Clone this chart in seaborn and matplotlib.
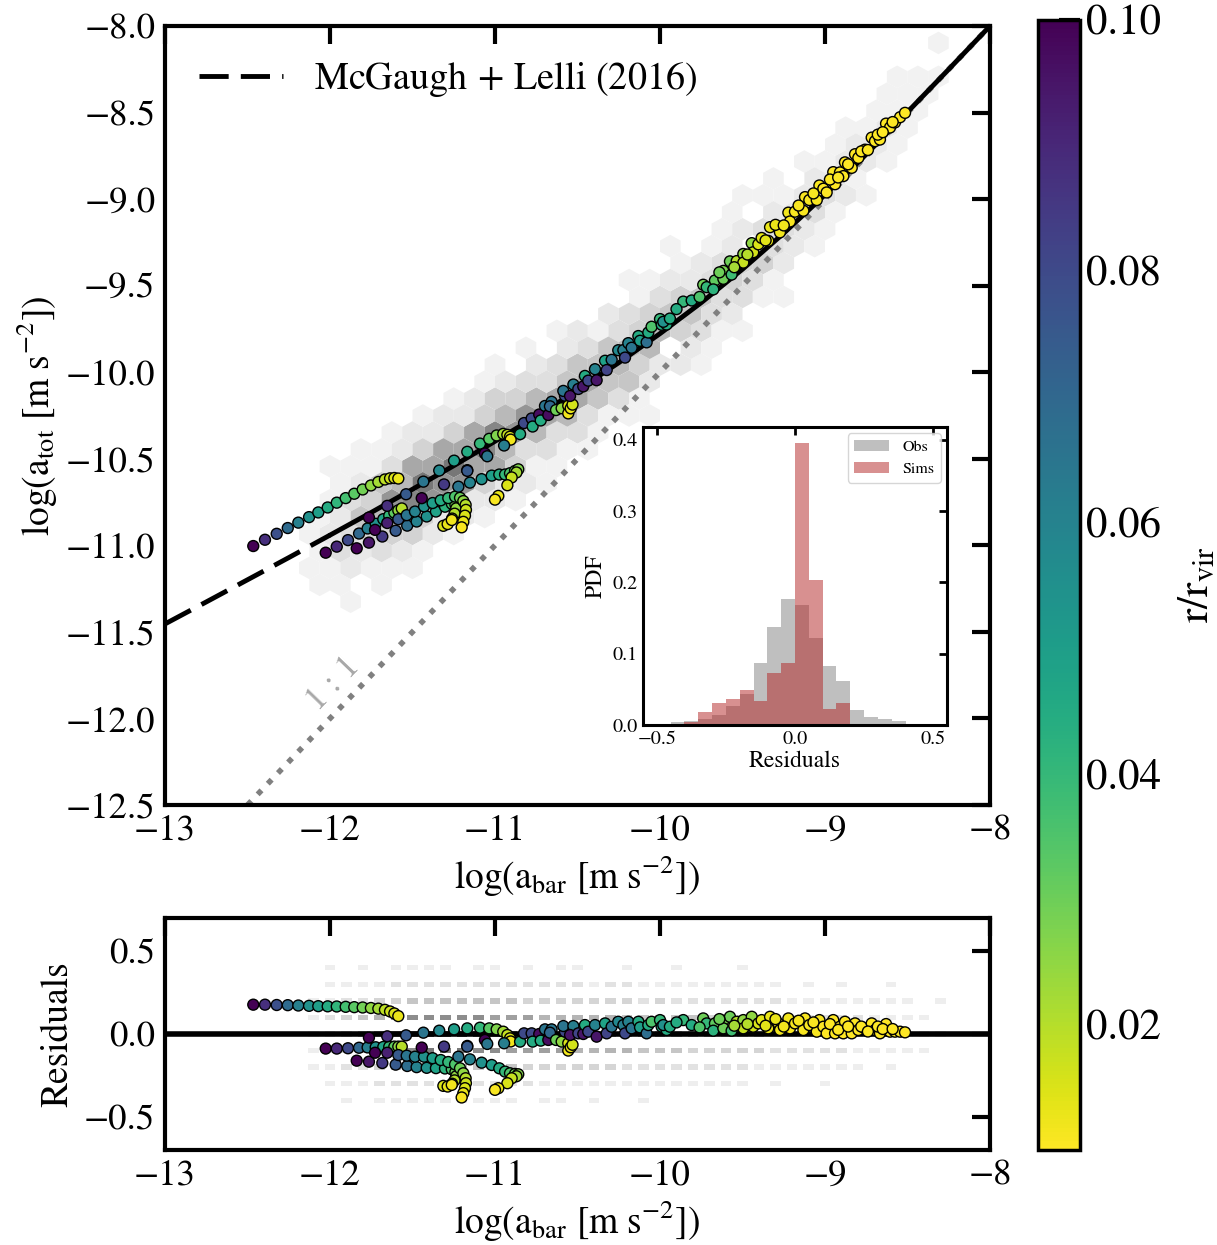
import numpy as np
import pandas as pd
import matplotlib
matplotlib.use("Agg")
import matplotlib.pyplot as plt
import seaborn as sns
from matplotlib.colors import Normalize
from matplotlib.cm import ScalarMappable
from matplotlib.lines import Line2D

# ---------------- data ----------------
# McGaugh + Lelli (2016) relation
rar_x = [-13.0, -12.75, -12.5, -12.25, -12.0, -11.75, -11.5, -11.25, -11.0, -10.75, -10.5,
         -10.25, -10.0, -9.75, -9.5, -9.25, -9.0, -8.75, -8.5, -8.25, -8.0]
rar_y = [-11.454, -11.327, -11.199, -11.071, -10.941, -10.810, -10.676, -10.540, -10.399, -10.255, -10.104,
         -9.945, -9.777, -9.598, -9.405, -9.197, -8.975, -8.741, -8.497, -8.250, -8.000]
one_to_one = [-12.5, -8.0]

# observed data: counts on a grid of log(a_bar) x residual
obs_x = [-12.1, -12.0, -11.9, -11.8, -11.7, -11.6, -11.5, -11.4, -11.3, -11.2, -11.1, -11.0, -10.9,
         -10.8, -10.7, -10.6, -10.5, -10.4, -10.3, -10.2, -10.1, -10.0, -9.9, -9.8, -9.7, -9.6,
         -9.5, -9.4, -9.3, -9.2, -9.1, -9.0, -8.9, -8.8, -8.7, -8.6, -8.5, -8.4, -8.3]
obs_res = [0.4, 0.3, 0.2, 0.1, 0.0, -0.1, -0.2, -0.3, -0.4]
obs_counts = [
    [0, 1, 0, 1, 0, 1, 1, 1, 1, 0, 1, 1, 0, 1, 0, 1, 1, 0, 0, 1, 0, 0, 1, 0, 0, 0, 1, 0, 0, 0, 0, 0, 0, 0, 0, 0, 0, 0, 0],
    [0, 1, 1, 1, 1, 2, 2, 2, 2, 2, 2, 2, 2, 2, 2, 2, 2, 1, 2, 2, 1, 1, 1, 1, 1, 1, 1, 1, 1, 0, 1, 0, 1, 0, 0, 1, 0, 0, 0],
    [1, 1, 2, 2, 3, 3, 4, 4, 4, 4, 4, 4, 4, 3, 3, 3, 3, 3, 3, 3, 2, 3, 2, 2, 2, 2, 2, 2, 2, 1, 1, 1, 1, 1, 1, 1, 1, 0, 1],
    [1, 2, 3, 4, 5, 6, 7, 7, 7, 7, 7, 6, 6, 6, 5, 5, 5, 5, 5, 4, 4, 4, 4, 4, 3, 3, 3, 3, 2, 2, 2, 2, 2, 2, 1, 1, 1, 1, 0],
    [1, 2, 3, 5, 6, 8, 9, 10, 10, 10, 9, 9, 8, 8, 7, 7, 7, 7, 6, 6, 6, 6, 5, 5, 5, 4, 4, 4, 3, 3, 3, 3, 2, 2, 2, 2, 1, 1, 1],
    [1, 2, 3, 4, 5, 6, 7, 8, 8, 8, 7, 7, 6, 6, 6, 6, 5, 5, 5, 5, 4, 4, 4, 3, 3, 3, 3, 3, 2, 2, 2, 2, 2, 1, 1, 1, 1, 1, 0],
    [1, 1, 2, 2, 3, 4, 4, 4, 5, 5, 4, 4, 4, 3, 3, 3, 3, 3, 3, 2, 2, 2, 2, 2, 2, 2, 2, 1, 1, 1, 1, 1, 1, 1, 0, 1, 0, 0, 0],
    [0, 1, 1, 1, 2, 2, 2, 2, 2, 2, 2, 2, 2, 2, 1, 1, 1, 1, 1, 1, 1, 1, 1, 1, 1, 1, 1, 0, 1, 0, 0, 1, 0, 0, 0, 0, 0, 0, 0],
    [0, 0, 1, 0, 1, 1, 1, 1, 1, 1, 1, 1, 1, 0, 1, 1, 0, 1, 0, 0, 1, 0, 0, 0, 0, 0, 0, 0, 0, 0, 0, 0, 0, 0, 0, 0, 0, 0, 0],
]

# simulated galaxies: log(a_bar), residual from the relation, r/r_vir
sim_x = [
    # outer-to-inner track, above the relation
    -12.465, -12.394, -12.323, -12.256, -12.192, -12.127, -12.071, -12.014, -11.959, -11.905,
    -11.853, -11.802, -11.752, -11.707, -11.667, -11.636, -11.610, -11.586,
    # track slightly below
    -12.026, -11.959, -11.891, -11.824, -11.772, -11.723, -11.677, -11.641, -11.610, -11.586, -11.565,
    # lower track
    -11.838, -11.764, -11.683, -11.602, -11.532, -11.475, -11.414, -11.358, -11.303, -11.262,
    -11.240, -11.235, -11.245, -11.260, -11.313, -11.287, -11.262,
    # curling track
    -11.727, -11.653, -11.586, -11.535, -11.485, -11.430, -11.378, -11.329, -11.283, -11.242,
    -11.212, -11.192, -11.178, -11.176, -11.182, -11.192, -11.202,
    # near-zero track
    -11.764, -11.653, -11.539, -11.434, -11.338, -11.248, -11.168, -11.091, -11.035, -10.990,
    -10.950, -10.925, -10.909, -10.905,
    # second curling track
    -11.444, -11.309, -11.168, -11.222,
    -11.152, -11.081, -11.020, -10.974, -10.939, -10.909, -10.879, -10.859, -10.870, -10.899,
    -10.925, -10.980, -11.000,
    # middle range
    -11.061, -11.047, -11.168, -10.945, -10.848, -10.824, -10.778, -10.732, -10.697, -10.657,
    -10.772, -10.723, -10.677, -10.667, -10.630, -10.596, -10.576, -10.556, -10.556, -10.541,
    -10.530, -10.586, -10.525, -10.545, -10.495, -10.465, -10.455, -10.435, -10.394, -10.384,
    -10.333, -10.323, -10.293, -10.253, -10.222, -10.212, -10.192, -10.172, -10.131, -10.121,
    -10.081, -10.071, -10.051, -10.000, -9.990, -9.960,
    # high-acceleration range
    -9.980, -9.940, -9.859, -9.808, -9.738, -9.717, -9.667, -9.677, -9.616, -9.616,
    -9.576, -9.566, -9.535, -9.495, -9.495, -9.444, -9.435, -9.404, -9.384, -9.333,
    -9.344, -9.283, -9.273, -9.222, -9.212, -9.182, -9.131, -9.121, -9.095, -9.050,
    -9.034, -9.010, -8.990, -8.950, -8.939, -8.909, -8.889, -8.879, -8.838, -8.818,
    -8.798, -8.758, -8.717, -8.697, -8.667, -8.630, -8.606, -8.576, -8.545, -8.515,
    -9.900, -9.760, -9.640, -9.550, -9.470, -9.360, -9.300, -9.250, -9.160, -9.070,
    -8.970, -8.920, -8.860, -8.780, -8.740, -8.680, -8.650, -8.590,
]
sim_res = [
    0.177, 0.177, 0.175, 0.174, 0.172, 0.170, 0.168, 0.167, 0.166, 0.164,
    0.162, 0.160, 0.157, 0.153, 0.146, 0.136, 0.124, 0.108,
    -0.088, -0.088, -0.086, -0.083, -0.081, -0.080, -0.078, -0.077, -0.076, -0.076, -0.076,
    -0.161, -0.167, -0.175, -0.185, -0.193, -0.200, -0.204, -0.206, -0.208, -0.213,
    -0.230, -0.255, -0.280, -0.300, -0.313, -0.317, -0.307,
    -0.113, -0.113, -0.127, -0.131, -0.137, -0.137, -0.146, -0.157, -0.169, -0.183,
    -0.207, -0.237, -0.267, -0.297, -0.327, -0.357, -0.383,
    -0.022, -0.014, -0.008, 0.008, 0.020, 0.028, 0.034, 0.038, 0.034, 0.028,
    0.014, -0.006, -0.026, -0.045,
    -0.082, -0.076, -0.072, -0.137,
    -0.153, -0.173, -0.187, -0.207, -0.227, -0.237, -0.241, -0.243, -0.255, -0.267,
    -0.297, -0.327, -0.337,
    -0.036, -0.060, -0.076, -0.056, -0.046, 0.004, 0.004, 0.000, 0.028, 0.028,
    -0.046, -0.040, -0.036, 0.008, -0.036, -0.046, 0.014, -0.056, -0.100, -0.080,
    -0.065, 0.048, 0.048, -0.006, 0.004, 0.000, 0.054, 0.014, 0.054, -0.016,
    0.064, 0.004, 0.044, 0.074, 0.054, 0.004, 0.074, 0.034, 0.074, 0.040,
    0.004, 0.054, 0.074, 0.084, 0.044, 0.024,
    0.054, 0.044, 0.084, 0.054, 0.094, 0.064, 0.064, 0.020, 0.080, 0.034,
    0.104, 0.020, 0.074, 0.084, 0.034, 0.104, 0.044, 0.064, 0.084, 0.104,
    0.034, 0.064, 0.024, 0.094, 0.034, 0.064, 0.024, 0.094, 0.054, 0.014,
    0.084, 0.044, 0.004, 0.084, 0.004, 0.044, 0.004, 0.074, 0.004, 0.064,
    0.024, 0.034, 0.064, 0.024, 0.004, 0.060, 0.014, 0.014, 0.014, 0.010,
    0.070, 0.040, 0.090, 0.050, 0.060, 0.050, 0.090, 0.045, 0.080, 0.070,
    0.060, 0.025, 0.045, 0.045, 0.015, 0.045, 0.030, 0.030,
]
sim_r = [
    0.100, 0.088, 0.078, 0.069, 0.061, 0.055, 0.050, 0.045, 0.041, 0.037,
    0.033, 0.029, 0.025, 0.022, 0.019, 0.017, 0.015, 0.013,
    0.100, 0.090, 0.080, 0.070, 0.062, 0.055, 0.048, 0.040, 0.032, 0.025, 0.020,
    0.100, 0.095, 0.085, 0.075, 0.068, 0.060, 0.055, 0.048, 0.042, 0.036,
    0.030, 0.025, 0.020, 0.017, 0.015, 0.013, 0.012,
    0.100, 0.092, 0.075, 0.065, 0.060, 0.055, 0.050, 0.045, 0.040, 0.035,
    0.030, 0.025, 0.020, 0.017, 0.015, 0.013, 0.011,
    0.100, 0.088, 0.075, 0.065, 0.058, 0.050, 0.045, 0.040, 0.033, 0.027,
    0.022, 0.018, 0.015, 0.012,
    0.100, 0.085, 0.075, 0.065,
    0.060, 0.055, 0.050, 0.045, 0.040, 0.035, 0.030, 0.027, 0.022, 0.018,
    0.015, 0.013, 0.011,
    0.100, 0.065, 0.075, 0.062, 0.045, 0.080, 0.080, 0.097, 0.065, 0.065,
    0.045, 0.045, 0.097, 0.070, 0.030, 0.025, 0.080, 0.015, 0.012, 0.013,
    0.016, 0.065, 0.062, 0.095, 0.082, 0.095, 0.045, 0.080, 0.060, 0.095,
    0.048, 0.082, 0.065, 0.058, 0.062, 0.080, 0.060, 0.065, 0.045, 0.050,
    0.068, 0.045, 0.035, 0.040, 0.045, 0.045,
    0.055, 0.045, 0.040, 0.045, 0.030, 0.040, 0.032, 0.042, 0.028, 0.030,
    0.030, 0.038, 0.020, 0.025, 0.018, 0.025, 0.016, 0.015, 0.014, 0.013,
    0.013, 0.012, 0.012, 0.012, 0.011, 0.011, 0.011, 0.011, 0.011, 0.011,
    0.011, 0.010, 0.010, 0.010, 0.010, 0.010, 0.010, 0.010, 0.010, 0.010,
    0.010, 0.010, 0.010, 0.010, 0.010, 0.010, 0.010, 0.010, 0.010, 0.010,
    0.045, 0.035, 0.030, 0.022, 0.020, 0.014, 0.013, 0.012, 0.011, 0.011,
    0.010, 0.010, 0.010, 0.010, 0.010, 0.010, 0.010, 0.010,
]

# inset histogram of residuals (fraction per bin)
hist_edges = [-0.5, -0.45, -0.4, -0.35, -0.3, -0.25, -0.2, -0.15, -0.1, -0.05, 0.0,
              0.05, 0.1, 0.15, 0.2, 0.25, 0.3, 0.35, 0.4, 0.45, 0.5]
obs_pdf = [0.0, 0.004, 0.006, 0.008, 0.014, 0.026, 0.044, 0.087, 0.137, 0.177,
           0.169, 0.122, 0.083, 0.062, 0.021, 0.011, 0.008, 0.006, 0.0, 0.0]
sims_pdf = [0.0, 0.0, 0.004, 0.018, 0.031, 0.037, 0.049, 0.033, 0.073, 0.087,
            0.396, 0.204, 0.023, 0.031, 0.0, 0.0, 0.0, 0.0, 0.0, 0.0]

# ---------------- style ----------------
sns.set_theme(style="white")
plt.rcParams["font.family"] = ["STIXGeneral", "DejaVu Serif"]
plt.rcParams["mathtext.fontset"] = "stix"
plt.rcParams["axes.unicode_minus"] = True
for k in ("axes.edgecolor", "xtick.color", "ytick.color", "axes.labelcolor", "text.color"):
    plt.rcParams[k] = "black"

W, H = 1217, 1245
fig = plt.figure(figsize=(W / 100, H / 100), dpi=100)


def box(l, t, r, b):
    return [l / W, 1 - b / H, (r - l) / W, (b - t) / H]


ax = fig.add_axes(box(165, 26, 990, 805))
axr = fig.add_axes(box(165, 918, 990, 1150))
cax = fig.add_axes(box(1038, 20, 1080, 1150))
axin = fig.add_axes(box(643, 427, 947, 725))

# ---------------- derived tables ----------------
sims = pd.DataFrame({"x": sim_x, "res": sim_res, "r": sim_r})
sims["y"] = np.interp(sims["x"], rar_x, rar_y) + sims["res"]

ox, orr = np.meshgrid(obs_x, obs_res)
obs = pd.DataFrame({"x": ox.ravel(), "res": orr.ravel(), "w": np.array(obs_counts).ravel()})
obs = obs[obs["w"] > 0].copy()
obs["y"] = np.interp(obs["x"], rar_x, rar_y) + obs["res"]

rar = pd.DataFrame({"x": rar_x, "y": rar_y})
rar_dash = rar[rar["x"] <= -12.0]
rar_solid = rar[rar["x"] >= -12.0]

norm = Normalize(vmin=0.01, vmax=0.10)
cmap = "viridis_r"
dash = (0, (6, 2.5))
lab = r"$\rm \log(a_{%s}\ [m\ s^{-2}])$"

# ---------------- main panel ----------------
ax.hexbin(obs["x"], obs["y"], C=obs["w"], reduce_C_function=np.max, gridsize=40,
          extent=(-13, -8, -12.5, -8), cmap="Greys", vmin=-1, vmax=17, linewidths=0, zorder=1)
sns.lineplot(x=one_to_one, y=one_to_one, ax=ax, color="grey", lw=4, ls=":", zorder=2)
sns.lineplot(data=rar_dash, x="x", y="y", ax=ax, color="black", lw=3.5, zorder=3)
ax.lines[-1].set_linestyle(dash)
sns.lineplot(data=rar_solid, x="x", y="y", ax=ax, color="black", lw=3.5, zorder=3)
sns.scatterplot(data=sims, x="x", y="y", hue="r", palette=cmap, hue_norm=(0.01, 0.10),
                s=62, edgecolor="black", linewidth=1, legend=False, ax=ax, zorder=5)
ax.text(-11.98, -11.8, "1 : 1", color="#a8a8a8", fontsize=25, rotation=46,
        ha="center", va="center")
ax.legend(handles=[Line2D([0], [0], color="black", lw=3.5, ls=dash)],
          labels=[r"McGaugh$\,+\,$Lelli (2016)"], loc="upper left", frameon=False,
          fontsize=27.5, handlelength=2.2, handletextpad=0.8, borderaxespad=0.5)
ax.set_xlim(-13, -8)
ax.set_ylim(-12.5, -8)
ax.set_xticks([-13, -12, -11, -10, -9, -8])
ax.set_yticks([-12.5, -12, -11.5, -11, -10.5, -10, -9.5, -9, -8.5, -8])
ax.set_xlabel(lab % "bar", fontsize=27, labelpad=4)
ax.set_ylabel(lab % "tot", fontsize=27, labelpad=4)

# ---------------- residual panel ----------------
xb = sorted([v - 0.032 for v in obs_x] + [v + 0.032 for v in obs_x])
rb = sorted([v - 0.016 for v in obs_res] + [v + 0.016 for v in obs_res])
sns.histplot(data=obs, x="x", y="res", weights="w", ax=axr, bins=[xb, rb],
             cmap="Greys", vmin=-1, vmax=14, thresh=0, zorder=1)
axr.axhline(0, color="black", lw=4, zorder=3)
sns.scatterplot(data=sims, x="x", y="res", hue="r", palette=cmap, hue_norm=(0.01, 0.10),
                s=62, edgecolor="black", linewidth=1, legend=False, ax=axr, zorder=5)
axr.set_xlim(-13, -8)
axr.set_ylim(-0.7, 0.7)
axr.set_xticks([-13, -12, -11, -10, -9, -8])
axr.set_yticks([-0.5, 0.0, 0.5])
axr.set_xlabel(lab % "bar", fontsize=27, labelpad=4)
axr.set_ylabel("Residuals", fontsize=27, labelpad=6)

for a in (ax, axr):
    a.tick_params(direction="in", length=13, width=3, top=True, right=True,
                  labelsize=26.5, pad=7)
    for s in a.spines.values():
        s.set_linewidth(3)
        s.set_color("black")

# ---------------- inset histogram ----------------
centers = [(hist_edges[i] + hist_edges[i + 1]) / 2 for i in range(len(hist_edges) - 1)]
axin.set_facecolor("white")
sns.histplot(x=centers, weights=obs_pdf, bins=hist_edges, ax=axin, color="grey",
             alpha=0.5, linewidth=0, label="Obs")
sns.histplot(x=centers, weights=sims_pdf, bins=hist_edges, ax=axin, color="firebrick",
             alpha=0.5, linewidth=0, label="Sims")
axin.set_xlim(-0.55, 0.55)
axin.set_ylim(0, 0.418)
axin.set_xticks([-0.5, 0.0, 0.5])
axin.set_yticks([0.0, 0.1, 0.2, 0.3, 0.4])
axin.set_xlabel("Residuals", fontsize=17, labelpad=2)
axin.set_ylabel("PDF", fontsize=17, labelpad=4)
axin.tick_params(direction="in", length=6, width=2, top=True, right=True, labelsize=14.5, pad=4)
for s in axin.spines.values():
    s.set_linewidth(2.2)
    s.set_color("black")
axin.legend(loc="upper right", fontsize=11.5, frameon=True, handlelength=2.2,
            borderaxespad=0.4)

# ---------------- colorbar ----------------
cb = fig.colorbar(ScalarMappable(norm=norm, cmap=cmap), cax=cax)
cb.set_ticks([0.02, 0.04, 0.06, 0.08, 0.10])
cb.ax.tick_params(direction="in", length=15, width=3, labelsize=31, pad=4, right=True,
                  color="black")
cb.outline.set_linewidth(2.5)
cb.outline.set_edgecolor("black")
cb.set_label(r"$\rm r/r_{vir}$", fontsize=31, labelpad=12)

fig.savefig("out.png", dpi=100)
